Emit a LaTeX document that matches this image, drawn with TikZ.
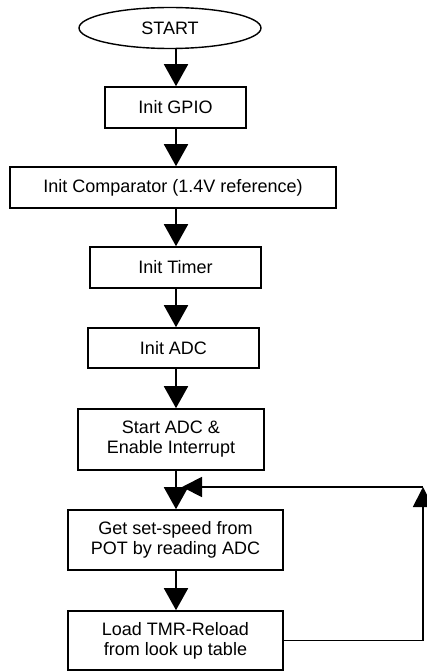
\documentclass[tikz,border=0pt]{standalone}
\usepackage{fontspec}
\setmainfont{Liberation Sans}
\usetikzlibrary{arrows.meta,shapes.geometric}
\begin{document}
\begin{tikzpicture}[x=1pt,y=-1pt,
  every node/.style={font=\fontsize{18}{20}\selectfont, align=center, inner sep=0pt},
  procbox/.style={draw, line width=1.6pt, rectangle},
  flow/.style={line width=1.8pt, -{Triangle[width=24pt,length=22pt]}},
  loopflow/.style={line width=1.8pt, -{Triangle[width=20pt,length=20pt]}},
  plain/.style={line width=1.8pt}]
\useasboundingbox (0,0) rectangle (427,671);
\coordinate (axis) at (176,0);
\node[draw, line width=1.4pt, ellipse, minimum width=182pt, minimum height=41pt] (start) at (170,28) {START};
\node[procbox, minimum width=141pt, minimum height=41pt] (gpio) at (175.5,107.5) {Init GPIO};
\node[procbox, minimum width=326pt, minimum height=41pt] (comp) at (173,187.5) {Init Comparator (1.4V reference)};
\node[procbox, minimum width=171pt, minimum height=41pt] (timer) at (175.5,267.5) {Init Timer};
\node[procbox, minimum width=171pt, minimum height=40pt] (adc) at (173.5,348) {Init ADC};
\node[procbox, minimum width=186pt, minimum height=61pt] (sadc) at (171,439.5) {Start ADC \&\\Enable Interrupt};
\node[procbox, minimum width=215pt, minimum height=60pt] (get) at (175.5,540) {Get set-speed from\\POT by reading ADC};
\node[procbox, minimum width=215pt, minimum height=59pt] (load) at (175.5,640.5) {Load TMR-Reload\\from look up table};
\draw[flow] (start.south -| axis) -- (gpio.north -| axis);
\draw[flow] (gpio.south -| axis) -- (comp.north -| axis);
\draw[flow] (comp.south -| axis) -- (timer.north -| axis);
\draw[flow] (timer.south -| axis) -- (adc.north -| axis);
\draw[flow] (adc.south -| axis) -- (sadc.north -| axis);
\draw[flow] (sadc.south -| axis) -- (get.north -| axis);
\draw[flow] (get.south -| axis) -- (load.north -| axis);
\coordinate (corner) at (423,487);
\coordinate (join) at (182,487);
\draw[loopflow] (load.east) -| (corner);
\draw[loopflow] (corner) -- (join);
\end{tikzpicture}
\end{document}
